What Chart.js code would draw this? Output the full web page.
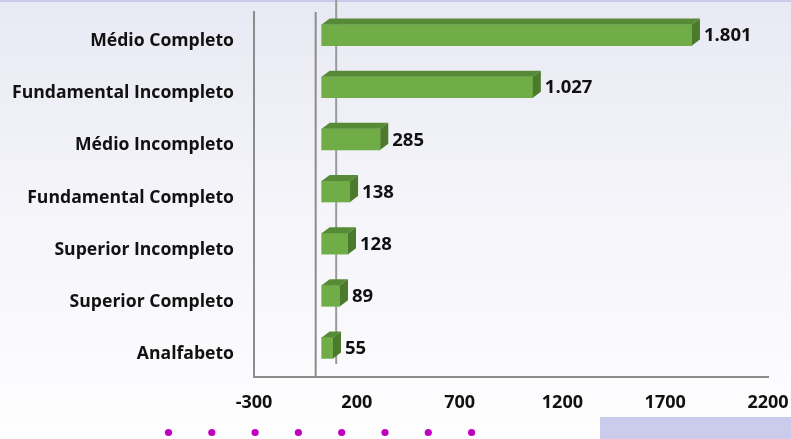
<!DOCTYPE html>
<html><head><meta charset="utf-8">
<script src="https://cdn.jsdelivr.net/npm/chart.js@4/dist/chart.umd.min.js"></script>
<style>html,body{margin:0;padding:0;overflow:hidden;background:#fff}#wrap{width:791px;height:439px;position:relative}</style>
</head><body><div id="wrap"><canvas id="c"></canvas></div>
<script>
const categories = ['Médio Completo','Fundamental Incompleto','Médio Incompleto','Fundamental Completo','Superior Incompleto','Superior Completo','Analfabeto'];
const values = [1801, 1027, 285, 138, 128, 89, 55];
const xTicks = [-300, 200, 700, 1200, 1700, 2200];
const dotCount = 8;

const FONT = "'Open Sans', sans-serif";
const DX = 8, DY = 6, SHIFT_X = 6, SHIFT_Y = -3;

function fmt(v){ return String(v).replace(/\B(?=(\d{3})+(?!\d))/g, '.'); }

const deco = {
  id: 'deco',
  beforeDraw(chart){
    const ctx = chart.ctx, W = chart.width, H = chart.height;
    ctx.save();
    const g = ctx.createLinearGradient(0,0,0,H);
    g.addColorStop(0,'#e9e9f4');
    g.addColorStop(0.5,'#f5f5fa');
    g.addColorStop(1,'#fefeff');
    ctx.fillStyle = g; ctx.fillRect(0,0,W,H);
    ctx.fillStyle = '#c9c9e8'; ctx.fillRect(0,0,W,2);
    ctx.fillStyle = '#cbcbeb'; ctx.fillRect(600,417,W-600,H-417);
    ctx.restore();
  },
  beforeDatasetsDraw(chart){
    const ctx = chart.ctx, a = chart.chartArea, xs = chart.scales.x;
    const x0 = xs.getPixelForValue(0);
    ctx.save();
    ctx.strokeStyle = '#8c8c8c'; ctx.lineWidth = 2;
    ctx.beginPath(); ctx.moveTo(x0, a.top); ctx.lineTo(x0, a.bottom); ctx.stroke();
    ctx.strokeStyle = '#9a9a9a'; ctx.lineWidth = 2;
    ctx.beginPath(); ctx.moveTo(x0+20.5, 0); ctx.lineTo(x0+20.5, a.bottom-13); ctx.stroke();
    ctx.restore();
  },
  beforeDatasetDraw(chart){
    chart.ctx.save();
    chart.ctx.translate(SHIFT_X, SHIFT_Y);
  },
  afterDatasetDraw(chart, args){
    const ctx = chart.ctx;
    const meta = args.meta;
    meta.data.forEach((el) => {
      const p = el.getProps(['x','y','base','height'], true);
      const top = p.y - p.height/2, bot = p.y + p.height/2;
      ctx.fillStyle = '#578a36';
      ctx.beginPath();
      ctx.moveTo(p.base, top); ctx.lineTo(p.base+DX, top-DY); ctx.lineTo(p.x+DX, top-DY); ctx.lineTo(p.x, top); ctx.closePath(); ctx.fill();
      ctx.fillStyle = '#4b7a2c';
      ctx.beginPath();
      ctx.moveTo(p.x, top); ctx.lineTo(p.x+DX, top-DY); ctx.lineTo(p.x+DX, bot-DY); ctx.lineTo(p.x, bot); ctx.closePath(); ctx.fill();
    });
    ctx.fillStyle = '#111';
    ctx.font = "bold 18.5px " + FONT;
    ctx.textBaseline = 'middle'; ctx.textAlign = 'left';
    meta.data.forEach((el, i) => {
      const p = el.getProps(['x','y'], true);
      ctx.fillText(fmt(values[i]), p.x + DX + 4, p.y + 1);
    });
    ctx.restore();
  },
  afterDraw(chart){
    const ctx = chart.ctx;
    ctx.save();
    ctx.fillStyle = '#c000c0';
    for (let i = 0; i < dotCount; i++){
      ctx.beginPath(); ctx.arc(168.5 + i*43.3, 432.5, 3.6, 0, Math.PI*2); ctx.fill();
    }
    ctx.restore();
  }
};

new Chart(document.getElementById('c'), {
  type: 'bar',
  data: { labels: categories, datasets: [{ data: values, backgroundColor: '#70ad47', borderWidth: 0, barThickness: 21 }] },
  options: {
    indexAxis: 'y',
    responsive: true, maintainAspectRatio: false, animation: false,
    layout: { padding: { top: 12, right: 23, left: 0, bottom: 0 } },
    plugins: { legend: { display: false }, tooltip: { enabled: false } },
    scales: {
      x: {
        type: 'linear', min: -300, max: 2200,
        afterBuildTicks(s){ s.ticks = xTicks.map(v => ({ value: v })); },
        afterFit(s){ s.height = 62; s.paddingLeft = 0; s.paddingRight = 0; },
        grid: { display: false, drawTicks: false },
        border: { display: true, color: '#8c8c8c', width: 2 },
        ticks: { color: '#111', padding: 15, font: { family: FONT, size: 18, weight: 'bold' }, maxRotation: 0, autoSkip: false, callback: (v) => String(v) }
      },
      y: {
        afterFit(s){ s.width = 254; s.paddingTop = 0; s.paddingBottom = 0; },
        grid: { display: false, drawTicks: false },
        border: { display: true, color: '#8c8c8c', width: 2 },
        ticks: { color: '#111', padding: 20, labelOffset: 3, font: { family: FONT, size: 17.6, weight: 'bold' }, autoSkip: false }
      }
    }
  },
  plugins: [deco]
});
</script></body></html>
